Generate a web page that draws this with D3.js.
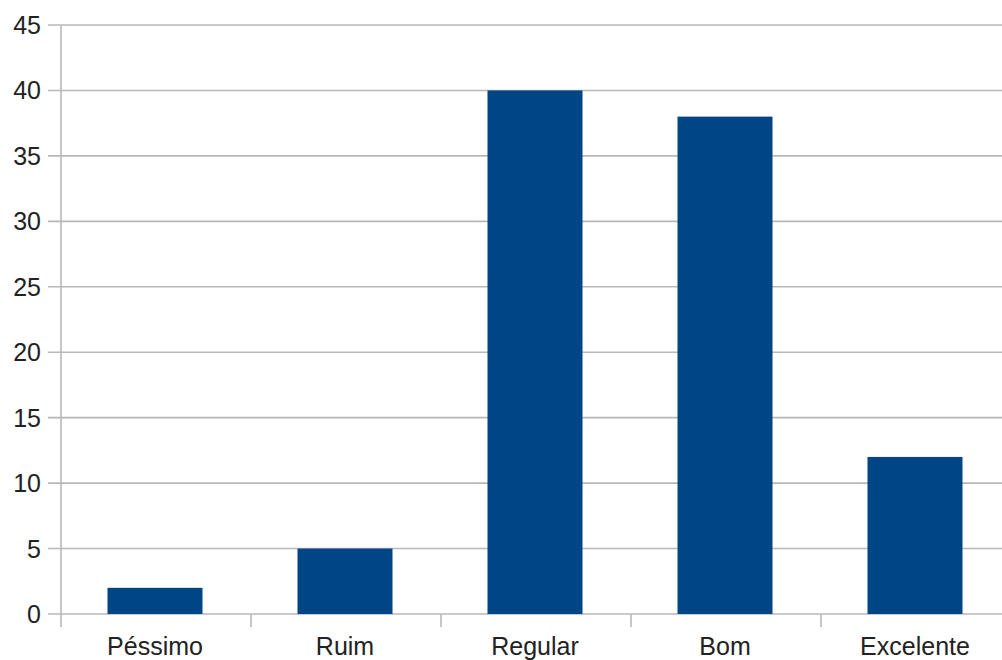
<!DOCTYPE html>
<html>
<head>
<meta charset="utf-8">
<script src="https://cdn.jsdelivr.net/npm/d3@7"></script>
<style>
    body { margin: 0; background: #fff; }
    svg { display: block; }
    text { font-family: "Liberation Sans", Arial, sans-serif; fill: #222; }
</style>
</head>
<body>
<svg id="chart" width="1002" height="660"></svg>
<script>
const categories = ["Péssimo", "Ruim", "Regular", "Bom", "Excelente"];
const values = [2, 5, 40, 38, 12];
const yTicks = [0, 5, 10, 15, 20, 25, 30, 35, 40, 45];

const gridColor = "#b8b8b8";
const barColor = "#004586";

document.addEventListener('DOMContentLoaded', function() {
    createBarGraph("#chart");
});

function createBarGraph(svgSelect){
    const svg = d3.select(svgSelect);
    const left = 61, right = 1011, top = 25, bottom = 614;

    const x = d3.scaleBand()
        .domain(categories)
        .range([left, right])
        .padding(0);

    const y = d3.scaleLinear()
        .domain([0, 45])
        .range([bottom, top]);

    // horizontal grid lines, drawn past the axis as outward ticks
    svg.append("g")
        .selectAll("line")
        .data(yTicks)
        .enter().append("line")
        .attr("x1", left - 13)
        .attr("x2", 1002)
        .attr("y1", d => y(d))
        .attr("y2", d => y(d))
        .attr("stroke", gridColor)
        .attr("stroke-width", 1.6);

    // y axis line
    svg.append("line")
        .attr("x1", left).attr("x2", left)
        .attr("y1", top).attr("y2", bottom + 13)
        .attr("stroke", gridColor)
        .attr("stroke-width", 1.6);

    // x tick marks at band boundaries
    svg.append("g")
        .selectAll("line")
        .data(categories.slice(1))
        .enter().append("line")
        .attr("x1", d => x(d))
        .attr("x2", d => x(d))
        .attr("y1", bottom)
        .attr("y2", bottom + 13)
        .attr("stroke", gridColor)
        .attr("stroke-width", 1.6);

    // y labels
    svg.append("g")
        .selectAll("text")
        .data(yTicks)
        .enter().append("text")
        .attr("x", left - 20)
        .attr("y", d => y(d))
        .attr("dy", "0.36em")
        .attr("text-anchor", "end")
        .attr("font-size", 25)
        .text(d => d);

    // bars
    const barW = x.bandwidth() * 0.5;
    svg.append("g")
        .selectAll("rect")
        .data(values)
        .enter().append("rect")
        .attr("x", (d, i) => x(categories[i]) + x.bandwidth() / 2 - barW / 2 - 1)
        .attr("y", d => y(d))
        .attr("width", barW)
        .attr("height", d => y(0) - y(d))
        .attr("fill", barColor);

    // x labels
    svg.append("g")
        .selectAll("text")
        .data(categories)
        .enter().append("text")
        .attr("x", d => x(d) + x.bandwidth() / 2 - 1)
        .attr("y", 655)
        .attr("text-anchor", "middle")
        .attr("font-size", 25)
        .text(d => d);
}
</script>
</body>
</html>
